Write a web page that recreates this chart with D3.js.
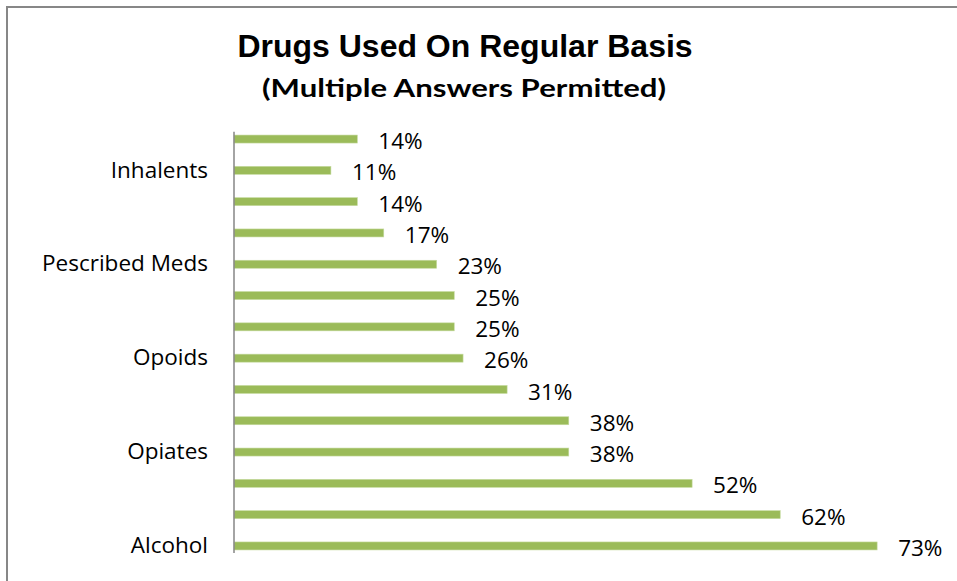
<!DOCTYPE html>
<html>
<head>
<meta charset="utf-8">
<script src="https://cdn.jsdelivr.net/npm/d3@7"></script>
<style>
  html, body { margin: 0; padding: 0; background: #ffffff; }
  svg { display: block; }
</style>
</head>
<body>
<svg id="chart" width="957" height="581"></svg>
<script>
// ---- data (bottom to top, as drawn) ----
const categories = ["Alcohol", "", "", "Opiates", "", "", "Opoids", "", "", "Pescribed Meds", "", "", "Inhalents", ""];
const values = [73, 62, 52, 38, 38, 31, 26, 25, 25, 23, 17, 14, 11, 14];
const titleText = "Drugs Used On Regular Basis";
const subtitleText = "(Multiple Answers Permitted)";

const svg = d3.select("#chart");
const W = 957, H = 581;

svg.append("rect").attr("x", 0).attr("y", 0).attr("width", W).attr("height", H).attr("fill", "#ffffff");
// chart frame (only left/top edges visible)
svg.append("rect").attr("x", 7).attr("y", 7).attr("width", 1200).attr("height", 1200)
  .attr("fill", "none").attr("stroke", "#878787").attr("stroke-width", 2);

// title
svg.append("text").attr("x", 465).attr("y", 56.5).attr("text-anchor", "middle")
  .attr("font-family", "'Liberation Sans', Arial, sans-serif").attr("font-weight", "bold")
  .attr("font-size", 32).attr("fill", "#000").text(titleText);
svg.append("text").attr("x", 464).attr("y", 97.3).attr("text-anchor", "middle")
  .attr("font-family", "Lato, sans-serif").attr("font-weight", "bold")
  .attr("font-size", 25).attr("fill", "#000")
  .attr("textLength", 404).attr("lengthAdjust", "spacingAndGlyphs")
  .text(subtitleText);

const x0 = 234;
const x = d3.scaleLinear().domain([0, 80]).range([x0, x0 + 80 * 8.81]);
const idx = d3.range(values.length);
const y = d3.scaleBand().domain(idx).range([561.6, 123.4]).padding(0);
const barH = 8;

const g = svg.append("g");

// bars
g.selectAll("rect.bar").data(idx).join("rect")
  .attr("class", "bar")
  .attr("x", x(0))
  .attr("y", i => y(i) + y.bandwidth() / 2 - barH / 2)
  .attr("width", i => x(values[i]) - x(0))
  .attr("height", barH)
  .attr("fill", "#9BBB59")
  .attr("stroke", "#c5dba0").attr("stroke-width", 0.6);

// value labels
g.selectAll("text.val").data(idx).join("text")
  .attr("class", "val")
  .attr("x", i => x(values[i]) + 21)
  .attr("y", i => y(i) + y.bandwidth() / 2 + 2)
  .attr("dy", "0.36em")
  .attr("font-family", "'Open Sans', sans-serif").attr("font-size", 22.5).attr("fill", "#000")
  .text(i => values[i] + "%");

// category axis
const axis = d3.axisLeft(y).tickSize(0).tickPadding(26).tickFormat(i => categories[i]);
const ax = svg.append("g").attr("transform", `translate(${x0},0)`).call(axis);
ax.select(".domain").remove();
ax.selectAll("text").attr("font-family", "'Open Sans', sans-serif").attr("font-size", 22.5).attr("fill", "#000");
ax.append("line").attr("x1", 0).attr("x2", 0)
  .attr("y1", y.range()[1] + 8.3).attr("y2", y.range()[0] - 8.6)
  .attr("stroke", "#868686").attr("stroke-width", 1.5);
</script>
</body>
</html>
